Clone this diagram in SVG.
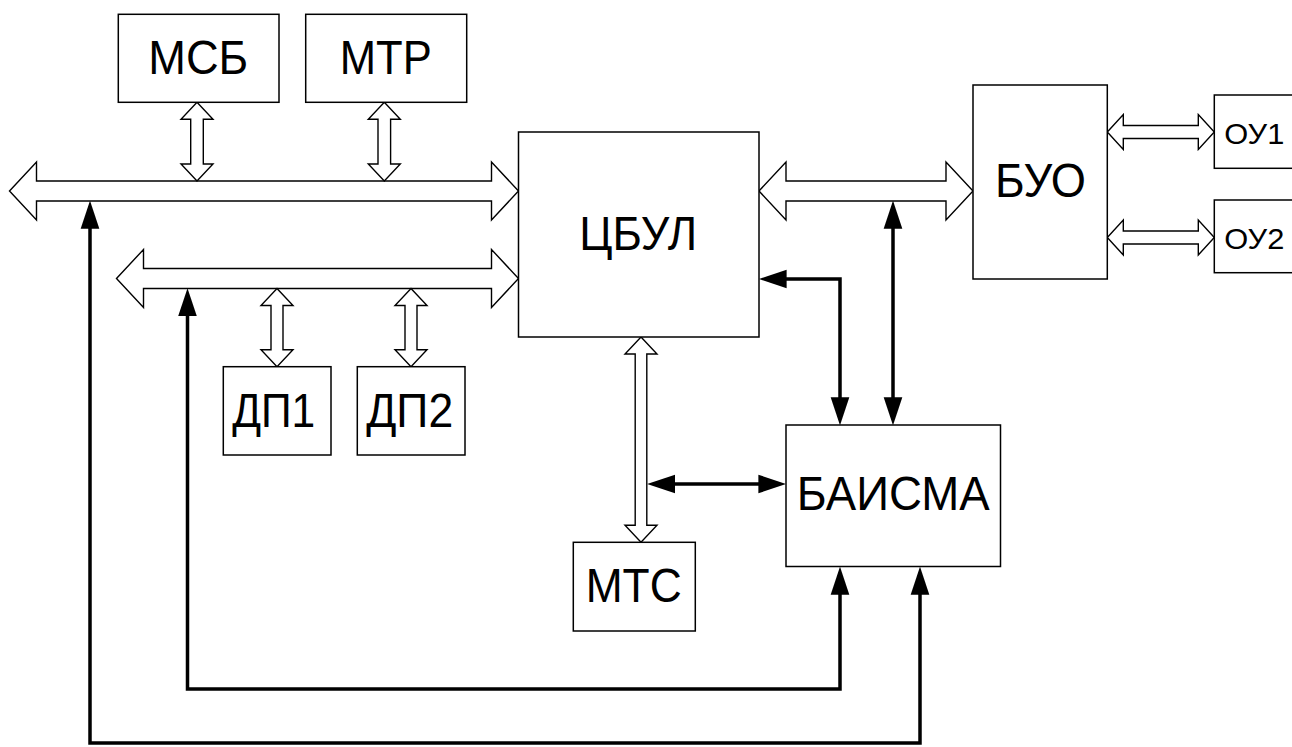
<svg xmlns="http://www.w3.org/2000/svg" width="1292" height="747" viewBox="0 0 1292 747">
<style>
.box{fill:#fff;stroke:#000;stroke-width:1.5}
.bus{fill:#fff;stroke:#000;stroke-width:1.4;stroke-linejoin:miter}
.ln{fill:none;stroke:#000;stroke-width:3.5;marker-start:url(#ah);marker-end:url(#ah)}
.ln1{fill:none;stroke:#000;stroke-width:3.5;marker-end:url(#ah)}
.t{font-family:"Liberation Sans",Arial,sans-serif;font-size:49px;fill:#000;text-anchor:middle}
.ts{font-family:"Liberation Sans",Arial,sans-serif;font-size:30px;fill:#000}
</style>
<defs>
<marker id="ah" markerUnits="userSpaceOnUse" markerWidth="28" markerHeight="20" viewBox="0 0 27 18" refX="17" refY="9" orient="auto-start-reverse">
<path d="M0,0 L27,9 L0,18 Z" fill="#000"/>
</marker>
</defs>
<rect width="1292" height="747" fill="#fff"/>

<g id="connectors">
<!-- hollow buses -->
<path class="bus" d="M9.5,191 L36.5,162 L36.5,181 L491.5,181 L491.5,162 L518.5,191 L491.5,220 L491.5,201 L36.5,201 L36.5,220 Z"/>
<path class="bus" d="M116.5,278.5 L143.5,249.5 L143.5,268.5 L491.5,268.5 L491.5,249.5 L518.5,278.5 L491.5,307.5 L491.5,288.5 L143.5,288.5 L143.5,307.5 Z"/>
<path class="bus" d="M759,191 L786,162 L786,181 L946,181 L946,162 L973,191 L946,220 L946,201 L786,201 L786,220 Z"/>
<path class="bus" d="M1107.3,132 L1123.3,114.5 L1123.3,125.5 L1198.3,125.5 L1198.3,114.5 L1214.3,132 L1198.3,149.5 L1198.3,138.5 L1123.3,138.5 L1123.3,149.5 Z"/>
<path class="bus" d="M1107.3,237.5 L1123.3,220 L1123.3,231 L1198.3,231 L1198.3,220 L1214.3,237.5 L1198.3,255 L1198.3,244 L1123.3,244 L1123.3,255 Z"/>
<!-- vertical hollow arrows -->
<path class="bus" d="M197,102.3 L213,119.3 L203.3,119.3 L203.3,164 L213,164 L197,181 L181,164 L190.7,164 L190.7,119.3 L181,119.3 Z"/>
<path class="bus" d="M384.3,102.3 L400.3,119.3 L390.6,119.3 L390.6,164 L400.3,164 L384.3,181 L368.3,164 L378,164 L378,119.3 L368.3,119.3 Z"/>
<path class="bus" d="M277,288.5 L293,305.5 L283,305.5 L283,349.7 L293,349.7 L277,366.7 L261,349.7 L271,349.7 L271,305.5 L261,305.5 Z"/>
<path class="bus" d="M411,288.5 L427,305.5 L417,305.5 L417,349.7 L427,349.7 L411,366.7 L395,349.7 L405,349.7 L405,305.5 L395,305.5 Z"/>
<path class="bus" d="M641,337 L657,354 L646.8,354 L646.8,525.3 L657,525.3 L641,542.3 L625,525.3 L635.2,525.3 L635.2,354 L625,354 Z"/>
<!-- black arrows -->
<path class="ln" d="M90,211 L90,743 L920,743 L920,577"/>
<path class="ln" d="M187.5,298.5 L187.5,689 L840,689 L840,577"/>
<path class="ln" d="M769,279 L840,279 L840,415"/>
<path class="ln" d="M893,211 L893,415"/>
<path class="ln" d="M657.5,484 L776,484"/>
</g>

<g id="node-msb"><rect class="box" x="118.3" y="14.3" width="160.7" height="88"/><text class="t" x="198.3" y="74" textLength="100" lengthAdjust="spacingAndGlyphs">МСБ</text></g>
<g id="node-mtr"><rect class="box" x="305.7" y="14.3" width="161" height="88"/><text class="t" x="385.8" y="74" textLength="92" lengthAdjust="spacingAndGlyphs">МТР</text></g>
<g id="node-cbul"><rect class="box" x="518.5" y="132" width="240.5" height="205"/><text class="t" x="638.3" y="250" textLength="118" lengthAdjust="spacingAndGlyphs">ЦБУЛ</text></g>
<g id="node-buo"><rect class="box" x="973" y="85" width="134.3" height="194"/><text class="t" x="1040.5" y="197" textLength="91" lengthAdjust="spacingAndGlyphs">БУО</text></g>
<g id="node-ou1"><rect class="box" x="1214.3" y="95" width="90" height="73.3"/><text class="ts" x="1224.3" y="143.5" textLength="60" lengthAdjust="spacingAndGlyphs">ОУ1</text></g>
<g id="node-ou2"><rect class="box" x="1214.3" y="200" width="90" height="72.7"/><text class="ts" x="1224.3" y="248.5" textLength="60" lengthAdjust="spacingAndGlyphs">ОУ2</text></g>
<g id="node-dp1"><rect class="box" x="223.3" y="366.7" width="107.7" height="88.3"/><text class="t" x="273.7" y="427" textLength="83" lengthAdjust="spacingAndGlyphs">ДП1</text></g>
<g id="node-dp2"><rect class="box" x="357.3" y="366.7" width="107.7" height="88.3"/><text class="t" x="409.7" y="427" textLength="87" lengthAdjust="spacingAndGlyphs">ДП2</text></g>
<g id="node-mts"><rect class="box" x="573.3" y="542.3" width="122" height="88.7"/><text class="t" x="633.7" y="602" textLength="96" lengthAdjust="spacingAndGlyphs">МТС</text></g>
<g id="node-baisma"><rect class="box" x="786" y="425" width="214.5" height="141.5"/><text class="t" x="893.3" y="510" textLength="193" lengthAdjust="spacingAndGlyphs">БАИСМА</text></g>
</svg>
